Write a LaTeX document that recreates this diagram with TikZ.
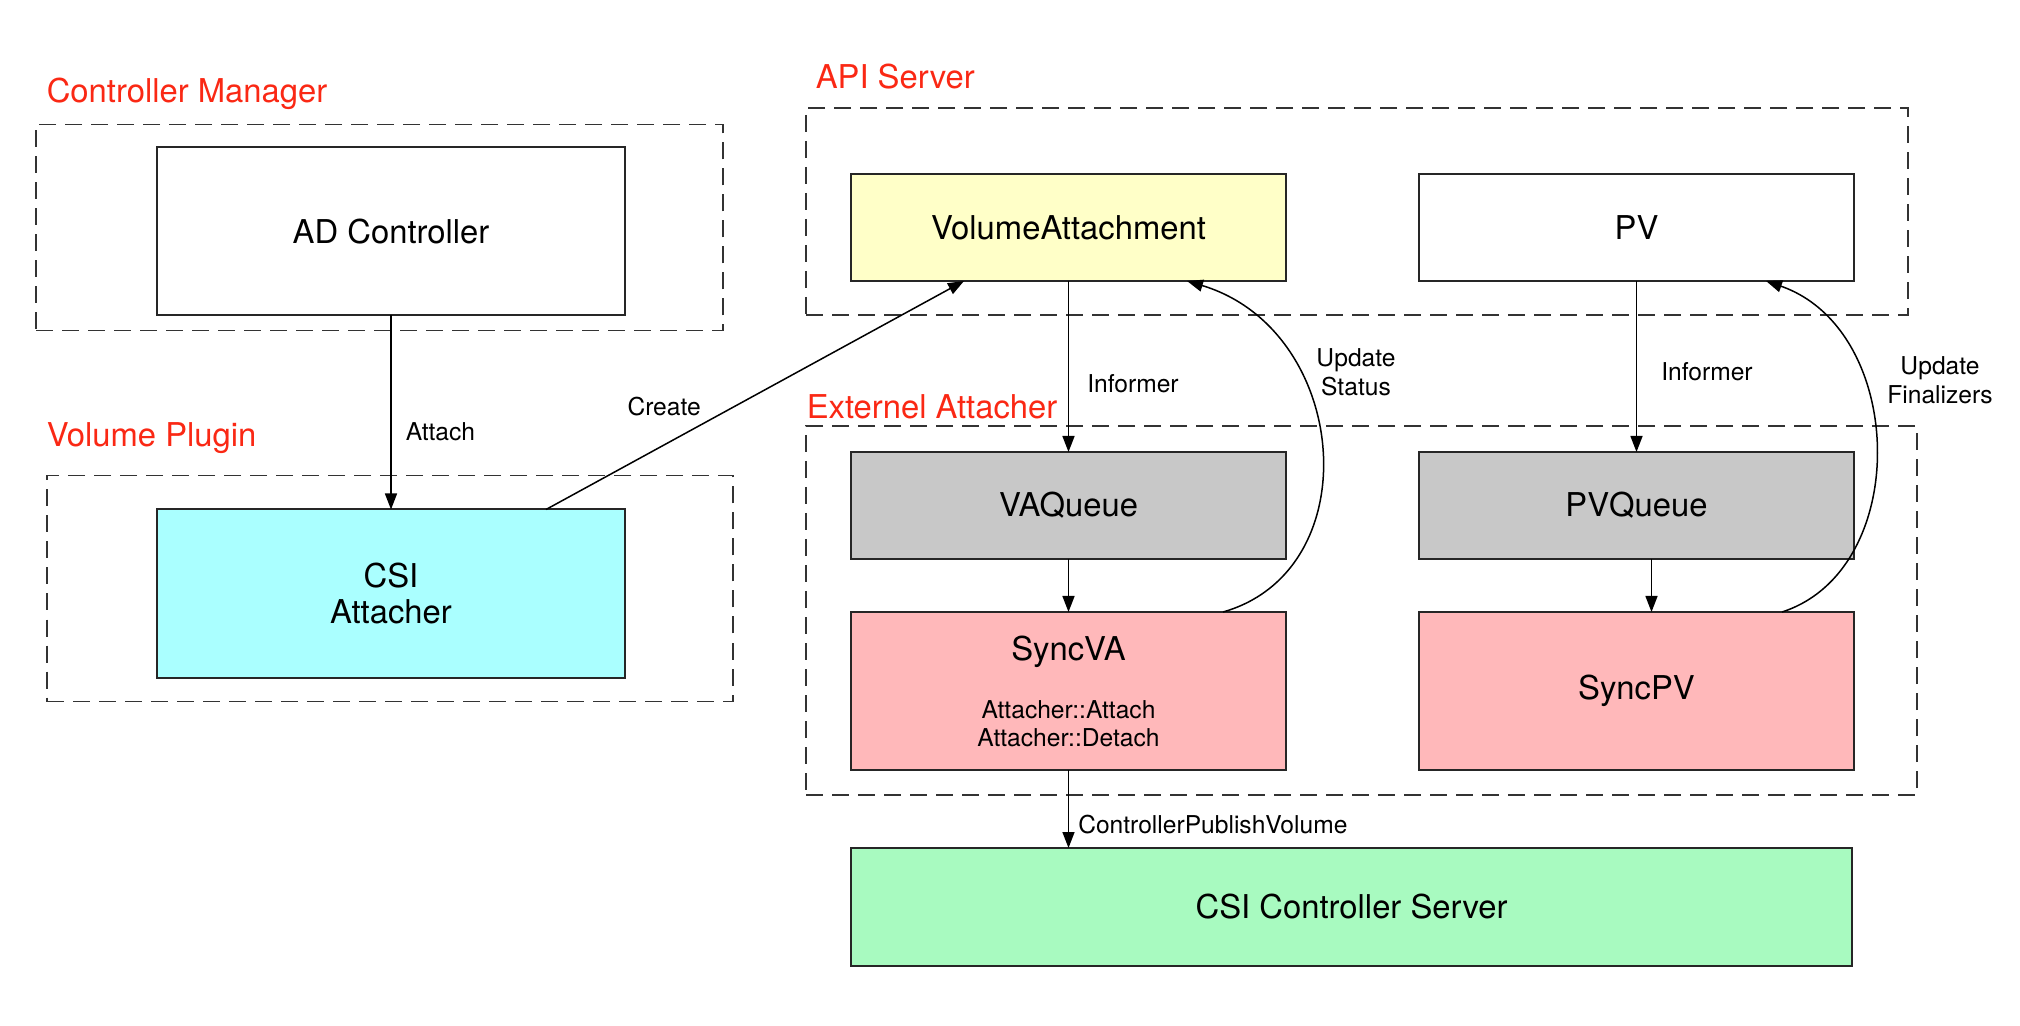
\documentclass[tikz,border=0pt]{standalone}
\usepackage{fontspec}
\setmainfont{TeX Gyre Heros}
\usetikzlibrary{positioning,arrows.meta}

\definecolor{grpred}{RGB}{250,40,20}
\definecolor{vayellow}{RGB}{255,255,200}
\definecolor{csicyan}{RGB}{170,255,255}
\definecolor{queuegray}{RGB}{200,200,200}
\definecolor{syncpink}{RGB}{255,184,186}
\definecolor{srvgreen}{RGB}{168,250,192}

\begin{document}
\begin{tikzpicture}[
        x=0.5pt, y=-0.5pt, line width=0.75pt,
        >={Triangle[length=8pt,width=6pt]},
        box/.style = {shape=rectangle, draw=black!85, line width=1pt,
                      align=center, inner sep=2pt, outer sep=0pt,
                      font=\fontsize{16.4}{18}\selectfont},
        group/.style = {shape=rectangle, draw=black!80, line width=0.9pt,
                        dash pattern=on 8.5pt off 4.5pt,
                        anchor=north west, inner sep=0pt, outer sep=0pt},
        grouplabel/.style = {anchor=base west, inner sep=0pt, text=grpred,
                             font=\fontsize{16.4}{18}\selectfont},
        lbl/.style = {inner sep=0pt, align=center,
                      font=\fontsize{12.3}{14.5}\selectfont}]
    \useasboundingbox (0,0) rectangle (2020,1026);

    \node[box, minimum width=234pt, minimum height=84pt] (ad) at (391,231.5) {AD Controller};
    \node[box, below=97pt of ad, minimum width=234pt, minimum height=84pt, fill=csicyan] (csi) {CSI\\Attacher};

    \node[box, right=113pt of ad, yshift=2pt, minimum width=217.5pt, minimum height=53.5pt, fill=vayellow] (va) {VolumeAttachment};
    \node[box, right=66.5pt of va, minimum width=217.5pt, minimum height=53.5pt] (pv) {PV};
    \node[box, below=85.5pt of va, minimum width=217.5pt, minimum height=53.5pt, fill=queuegray] (vq) {VAQueue};
    \node[box, below=85.5pt of pv, minimum width=217.5pt, minimum height=53.5pt, fill=queuegray] (pq) {PVQueue};
    \node[box, below=26.5pt of vq, minimum width=217.5pt, minimum height=79pt, fill=syncpink,
          font=\fontsize{12.3}{14}\selectfont] (sva)
          {{\fontsize{16.4}{14}\selectfont SyncVA}\\[15pt]Attacher::Attach\\Attacher::Detach};
    \node[box, below=26.5pt of pq, minimum width=217.5pt, minimum height=79pt, fill=syncpink] (spv) {SyncPV};
    \node[box, below=39pt of sva.south west, anchor=north west, minimum width=500.5pt, minimum height=59pt, fill=srvgreen] (csc) {CSI Controller Server};

    \node[group, minimum width=343.5pt, minimum height=103pt] (cm) at ([shift={(-60.5pt,11.5pt)}]ad.north west) {};
    \node[group, minimum width=343pt, minimum height=113pt] (vp) at ([shift={(-55pt,17pt)}]csi.north west) {};
    \node[group, minimum width=551pt, minimum height=103.5pt] (api) at ([shift={(-22.5pt,33pt)}]va.north west) {};
    \node[group, minimum width=555.5pt, minimum height=184.5pt] (ea) at ([shift={(-22.5pt,13pt)}]vq.north west) {};

    \node[grouplabel] (cmlabel) at ([shift={(5pt,11pt)}]cm.north west) {Controller Manager};
    \node[grouplabel] (vplabel) at ([shift={(-0.5pt,14.5pt)}]vp.north west) {Volume Plugin};
    \node[grouplabel] (apilabel) at ([shift={(4.5pt,9.5pt)}]api.north west) {API Server};
    \node[grouplabel] (ealabel) at ([shift={(0pt,3.5pt)}]ea.north west) {Externel Attacher};

    \draw [->] (ad) -- node[lbl, pos=0.6, right=7pt] (attachlbl) {Attach} (csi);
    \draw [->] ([xshift=-39.5pt]csi.north east) -- node[lbl, pos=0.45, xshift=-35pt] (createlbl) {Create} ([xshift=56.5pt]va.south west);
    \draw [->] (va) -- node[lbl, pos=0.6, right=9pt] (vainf) {Informer} (vq);
    \draw [->] (pv) -- node[lbl, pos=0.53, right=12pt] (pvinf) {Informer} (pq);
    \draw [->] (vq) -- (sva);
    \draw [->] ([xshift=7.5pt]pq.south) -- ([xshift=7.5pt]spv.north);
    \draw [->] (sva.south) -- node[lbl, pos=0.7, right=4.5pt] (publbl) {ControllerPublishVolume} (sva.south |- csc.north);

    \draw [->] ([xshift=-31.5pt]sva.north east) .. controls +(73.5pt,21pt) and +(81.5pt,-24.5pt) .. ([xshift=-49.5pt]va.south east);
    \draw [->] ([xshift=-36pt]spv.north east) .. controls +(65pt,21pt) and +(70.5pt,-24.5pt) .. ([xshift=-44pt]pv.south east);
    \node[lbl] (statuslbl) at ([xshift=35pt,yshift=-45.5pt]va.south east) {Update\\Status};
    \node[lbl] (finallbl) at ([xshift=43pt,yshift=-49.5pt]pv.south east) {Update\\Finalizers};
\end{tikzpicture}
\end{document}
